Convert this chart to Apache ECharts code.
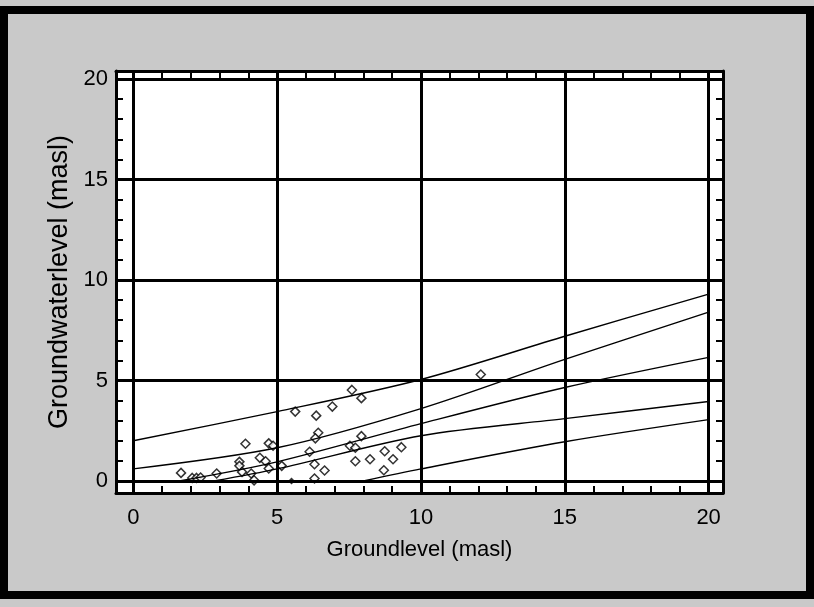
<!DOCTYPE html>
<html><head><meta charset="utf-8">
<script src="https://cdn.jsdelivr.net/npm/echarts@6/dist/echarts.min.js"></script>
<style>html,body{margin:0;padding:0;background:#c9c9c9}#c{width:814px;height:607px}</style>
</head><body><div id="c"></div>
<script>
// tick labels / grid positions
const xTickLabels = [0, 5, 10, 15, 20];
const yTickLabels = [0, 5, 10, 15, 20];
const minorTicks = [1,2,3,4,6,7,8,9,11,12,13,14,16,17,18,19];

// observed wells: groundlevel (x) vs groundwaterlevel (y)
const pointX = [1.66,2.05,2.2,2.34,2.9,3.69,3.69,3.78,3.9,4.1,4.2,4.4,4.6,4.71,4.86,4.71,5.16,5.63,6.13,6.3,6.3,6.36,6.43,6.33,6.65,6.92,7.53,7.72,7.72,7.6,7.93,7.93,8.23,8.71,8.74,9.03,9.32,12.08];
const pointY = [0.4,0.15,0.15,0.17,0.37,0.95,0.75,0.45,1.85,0.37,0.03,1.15,0.98,1.87,1.75,0.62,0.75,3.45,1.45,0.83,0.12,3.25,2.4,2.12,0.52,3.7,1.75,1.65,0.98,4.53,4.12,2.23,1.08,0.53,1.48,1.08,1.68,5.3];
const filledX = [5.5];
const filledY = [0];

// model curves
const curve1X = [0, 5, 10, 15, 20];
const curve1Y = [2.0, 3.45, 5.05, 7.2, 9.3];
const curve2X = [0, 5, 10, 15, 20];
const curve2Y = [0.6, 1.65, 3.6, 6.05, 8.4];
const curve3X = [1.6, 5, 10, 15, 20];
const curve3Y = [0, 0.95, 2.85, 4.65, 6.15];
const curve4X = [2.8, 5, 10, 15, 20];
const curve4Y = [0, 0.6, 2.25, 3.1, 3.95];
const curve5X = [8, 10, 15, 20];
const curve5Y = [0, 0.6, 1.95, 3.05];

const zip = (a, b) => a.map((v, i) => [v, b[i]]);
const curves = [[curve1X, curve1Y],[curve2X, curve2Y],[curve3X, curve3Y],[curve4X, curve4Y],[curve5X, curve5Y]];

const FONT = 'Liberation Sans';
const X_MIN = -0.6, X_MAX = 20.5, Y_MIN = -0.6, Y_MAX = 20.4;

function axisBase(pos, labels) {
  const horiz = pos === 'bottom' || pos === 'top';
  return {
    type: 'value', position: pos, min: horiz ? X_MIN : Y_MIN, max: horiz ? X_MAX : Y_MAX,
    axisLine: { show: true, onZero: false, lineStyle: { color: '#000', width: 3 } },
    axisTick: { show: true, inside: true, length: 7, customValues: minorTicks, lineStyle: { color: '#000', width: 2 } },
    axisLabel: labels ? { show: true, customValues: labels, color: '#000', fontSize: 22, fontFamily: FONT, margin: pos === 'bottom' ? 14 : 8 } : { show: false },
    splitLine: { show: false }
  };
}

const chart = echarts.init(document.getElementById('c'), null, { renderer: 'canvas' });
const series = [];
// grid lines as markLines
series.push({
  type: 'line', data: [], silent: true, xAxisIndex: 0, yAxisIndex: 0,
  markLine: {
    silent: true, symbol: 'none', label: { show: false },
    lineStyle: { color: '#000', width: 3, type: 'solid' },
    data: xTickLabels.map(v => ({ xAxis: v })).concat(yTickLabels.map(v => ({ yAxis: v })))
  }
});
curves.forEach(c => series.push({
  type: 'line', data: zip(c[0], c[1]), smooth: 0.3, symbol: 'none', silent: true,
  lineStyle: { color: '#000', width: 1.4 }
}));
series.push({
  type: 'scatter', data: zip(pointX, pointY), symbol: 'diamond', symbolSize: 9,
  itemStyle: { color: '#fff', borderColor: '#000', borderWidth: 1.5 }
});
series.push({
  type: 'scatter', data: zip(filledX, filledY), symbol: 'diamond', symbolSize: 7,
  itemStyle: { color: '#000' }
});

const xb = axisBase('bottom', xTickLabels);
xb.name = 'Groundlevel (masl)'; xb.nameLocation = 'middle'; xb.nameGap = 46;
xb.nameTextStyle = { color: '#000', fontSize: 22, fontFamily: FONT };
const yl = axisBase('left', yTickLabels);
yl.name = 'Groundwaterlevel (masl)'; yl.nameLocation = 'middle'; yl.nameGap = 34;
yl.nameTextStyle = { color: '#000', fontSize: 27, fontFamily: FONT };

chart.setOption({
  backgroundColor: '#c9c9c9',
  animation: false,
  grid: { left: 116, right: 91, top: 71, bottom: 114, show: true, backgroundColor: '#fff', borderWidth: 0 },
  xAxis: [xb, axisBase('top', null)],
  yAxis: [yl, axisBase('right', null)],
  graphic: [{
    type: 'rect', shape: { x: 4, y: 10, width: 806, height: 585 },
    style: { fill: 'none', stroke: '#000', lineWidth: 8 }, silent: true, z: 100
  }],
  series: series
});
</script></body></html>
